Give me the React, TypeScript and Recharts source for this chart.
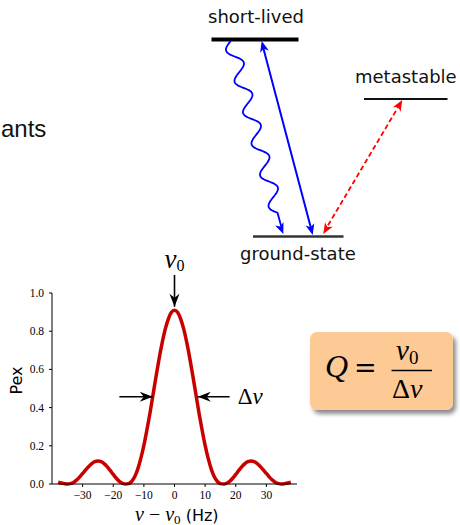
import { LineChart, Line, XAxis, YAxis, ReferenceLine } from 'recharts';

// detuning from line centre (Hz) and excitation probability
const detuning = [
  -38, -37, -36, -35, -34, -33, -32, -31, -30, -29, -28, -27, -26, -25, -24, -23, -22, -21, -20,
  -19, -18, -17, -16, -15, -14, -13, -12, -11, -10, -9, -8, -7, -6, -5, -4, -3, -2, -1, 0,
  1, 2, 3, 4, 5, 6, 7, 8, 9, 10, 11, 12, 13, 14, 15, 16, 17, 18, 19,
  20, 21, 22, 23, 24, 25, 26, 27, 28, 29, 30, 31, 32, 33, 34, 35, 36, 37, 38,
];
const pex = [
  0.009, 0.005, 0.002, 0.0, 0.002, 0.008, 0.02, 0.036, 0.055, 0.074, 0.092, 0.107, 0.117, 0.12, 0.117, 0.107, 0.091, 0.071, 0.05,
  0.03, 0.014, 0.004, 0.0, 0.002, 0.013, 0.038, 0.078, 0.134, 0.202, 0.284, 0.372, 0.469, 0.565, 0.658, 0.741, 0.812, 0.865, 0.899, 0.91,
  0.899, 0.865, 0.812, 0.741, 0.658, 0.565, 0.469, 0.372, 0.284, 0.202, 0.134, 0.078, 0.038, 0.013, 0.002, 0.0, 0.004, 0.014, 0.03,
  0.05, 0.071, 0.091, 0.107, 0.117, 0.12, 0.117, 0.107, 0.092, 0.074, 0.055, 0.036, 0.02, 0.008, 0.002, 0.0, 0.002, 0.005, 0.009,
];
const xTicks = [-30, -20, -10, 0, 10, 20, 30];
const yTicks = [0, 0.2, 0.4, 0.6, 0.8, 1.0];

const data = detuning.map((nu, i) => ({ nu, pex: pex[i] }));

const serif = '"Liberation Serif", "DejaVu Serif", serif';
const sans = '"DejaVu Sans", sans-serif';

// filled arrow head with notched back, tip at (x2, y2)
const head = (x1: number, y1: number, x2: number, y2: number, len: number, half: number, notch: number) => {
  const a = Math.atan2(y2 - y1, x2 - x1);
  const c = Math.cos(a);
  const s = Math.sin(a);
  const bx = x2 - len * c;
  const by = y2 - len * s;
  const nx = x2 - (len - notch) * c;
  const ny = y2 - (len - notch) * s;
  return `${x2},${y2} ${bx - half * s},${by + half * c} ${nx},${ny} ${bx + half * s},${by - half * c}`;
};

const annotArrow = (label?: 'nu0' | 'dnu') => (p: any) => {
  const { x1, y1, x2, y2 } = p;
  return (
    <g>
      <line x1={x1} y1={y1} x2={x2} y2={y2} stroke="#000" strokeWidth={1.6} />
      <polygon points={head(x1, y1, x2, y2, 13, 5, 4)} fill="#000" />
      {label === 'nu0' && (
        <text x={x1 - 10} y={y1 - 7} fontFamily={serif} fill="#000">
          <tspan fontSize={27} fontStyle="italic">ν</tspan>
          <tspan fontSize={16} dy={3}>0</tspan>
        </text>
      )}
      {label === 'dnu' && (
        <text x={x1 + 8} y={y1 + 7} fontFamily={serif} fontSize={23} fill="#000">
          Δ<tspan fontStyle="italic">ν</tspan>
        </text>
      )}
    </g>
  );
};

const fmtX = (v: number) => (v < 0 ? `\u2212${Math.abs(v)}` : `${v}`);

const wavy = (x1: number, y1: number, x2: number, y2: number) => {
  const dx = x2 - x1;
  const dy = y2 - y1;
  const L = Math.hypot(dx, dy);
  const ux = dx / L;
  const uy = dy / L;
  const pts: string[] = [];
  const waveLen = L - 22;
  for (let i = 0; i <= 200; i++) {
    const d = (i / 200) * waveLen;
    const off = 7 * Math.sin((d / waveLen) * 2 * Math.PI * 5.5);
    pts.push(`${(x1 + ux * d - uy * off).toFixed(2)},${(y1 + uy * d + ux * off).toFixed(2)}`);
  }
  pts.push(`${x2 - ux * 8},${y2 - uy * 8}`);
  return 'M' + pts.join(' L');
};

export default function App() {
  return (
    <div style={{ position: 'absolute', left: 0, top: 0, width: 460, height: 525, background: '#fff', overflow: 'hidden' }}>
      <div style={{ position: 'absolute', left: 0, top: 0 }}>
        <LineChart width={460} height={525} data={data} margin={{ top: 293, right: 163, bottom: 11, left: 12 }}>
          <XAxis
            dataKey="nu"
            type="number"
            domain={[-40, 40]}
            ticks={xTicks}
            tickFormatter={fmtX}
            height={30}
            tickSize={3}
            tickMargin={4}
            axisLine={{ stroke: '#000', strokeWidth: 1 }}
            tickLine={{ stroke: '#000' }}
            tick={{ fill: '#000', fontSize: 11.5, fontFamily: serif }}
          />
          <YAxis
            type="number"
            domain={[0, 1]}
            ticks={yTicks}
            tickFormatter={(v: number) => v.toFixed(1)}
            width={40}
            tickSize={3}
            tickMargin={5}
            axisLine={{ stroke: '#000', strokeWidth: 1 }}
            tickLine={{ stroke: '#000' }}
            tick={{ fill: '#000', fontSize: 11.5, fontFamily: serif }}
          />
          <Line
            dataKey="pex"
            type="monotone"
            stroke="#c80000"
            strokeWidth={3.5}
            dot={false}
            isAnimationActive={false}
          />
          <ReferenceLine
            segment={[{ x: 0, y: 1.094 }, { x: 0, y: 0.928 }]}
            ifOverflow="visible"
            shape={annotArrow('nu0')}
          />
          <ReferenceLine
            segment={[{ x: -18, y: 0.457 }, { x: -7.1, y: 0.457 }]}
            ifOverflow="visible"
            shape={annotArrow()}
          />
          <ReferenceLine
            segment={[{ x: 18, y: 0.457 }, { x: 7.6, y: 0.457 }]}
            ifOverflow="visible"
            shape={annotArrow('dnu')}
          />
        </LineChart>
      </div>

      <svg width={460} height={525} style={{ position: 'absolute', left: 0, top: 0, pointerEvents: 'none' }}>
        <defs>
          <filter id="shadow" x="-10%" y="-10%" width="130%" height="140%">
            <feDropShadow dx="3" dy="4" stdDeviation="2" floodColor="#000" floodOpacity="0.45" />
          </filter>
        </defs>

        {/* slide text at left edge */}
        <text x={1} y={137} fontFamily='"Liberation Sans", Arial, sans-serif' fontSize={24} fill="#111">
          ants
        </text>

        {/* energy levels */}
        <text x={256} y={23} textAnchor="middle" fontFamily={sans} fontSize={18} fill="#111">short-lived</text>
        <line x1={211.5} y1={39.5} x2={298.5} y2={39.5} stroke="#000" strokeWidth={4} />
        <text x={355} y={83} fontFamily={sans} fontSize={18} fill="#111">metastable</text>
        <line x1={364} y1={99} x2={447.5} y2={99} stroke="#111" strokeWidth={2.2} />
        <line x1={253} y1={236.5} x2={343.5} y2={236.5} stroke="#333" strokeWidth={2.5} />
        <text x={240} y={260} fontFamily={sans} fontSize={18} fill="#111">ground-state</text>

        {/* wavy decay */}
        <path d={wavy(230.7, 41, 283.3, 234)} fill="none" stroke="#0000ff" strokeWidth={1.8} />
        <polygon points={head(270, 200, 283.3, 234, 11, 4.5, 3)} fill="#0000ff" />
        {/* driven transition */}
        <line x1={262.5} y1={45} x2={312} y2={232} stroke="#0000ff" strokeWidth={2} />
        <polygon points={head(312.7, 235, 261.7, 41, 11, 4.5, 3)} fill="#0000ff" />
        <polygon points={head(261.7, 41, 312.7, 235, 11, 4.5, 3)} fill="#0000ff" />
        {/* metastable transition */}
        <line x1={400} y1={104} x2={325.5} y2={229.5} stroke="#ff0000" strokeWidth={1.8} strokeDasharray="5 3" />
        <polygon points={head(323.3, 234, 402.3, 100, 11, 4.5, 3)} fill="#ff0000" />
        <polygon points={head(402.3, 100, 323.3, 234, 11, 4.5, 3)} fill="#ff0000" />

        {/* axis labels */}
        <text x={21.5} y={380.5} transform="rotate(-90 21.5 380.5)" textAnchor="middle" fontFamily={sans} fontSize={16} fill="#000">
          Pex
        </text>
        <text x={135} y={520.5} fontFamily={serif} fill="#000">
          <tspan fontSize={20} fontStyle="italic">ν</tspan>
          <tspan fontSize={20}> − </tspan>
          <tspan fontSize={20} fontStyle="italic">ν</tspan>
          <tspan fontSize={13} dy={3}>0</tspan>
          <tspan fontSize={16} dy={-3} fontFamily={sans}> (Hz)</tspan>
        </text>

        {/* quality factor box */}
        <rect x={310} y={332} width={143} height={78} rx={7} fill="#fdca96" filter="url(#shadow)" />
        <text x={325} y={377} fontFamily={serif} fontSize={32} fontStyle="italic" fill="#000">Q</text>
        <text x={354} y={377} fontFamily='"DejaVu Serif", serif' fontSize={27} fill="#000">=</text>
        <text x={396} y={360} fontFamily={serif} fill="#000">
          <tspan fontSize={29} fontStyle="italic">ν</tspan>
          <tspan fontSize={19} dy={4}>0</tspan>
        </text>
        <line x1={391.5} y1={370.5} x2={432} y2={370.5} stroke="#000" strokeWidth={1.3} />
        <text x={392} y={398} fontFamily={serif} fontSize={28} fill="#000">
          Δ<tspan fontStyle="italic">ν</tspan>
        </text>
      </svg>
    </div>
  );
}
